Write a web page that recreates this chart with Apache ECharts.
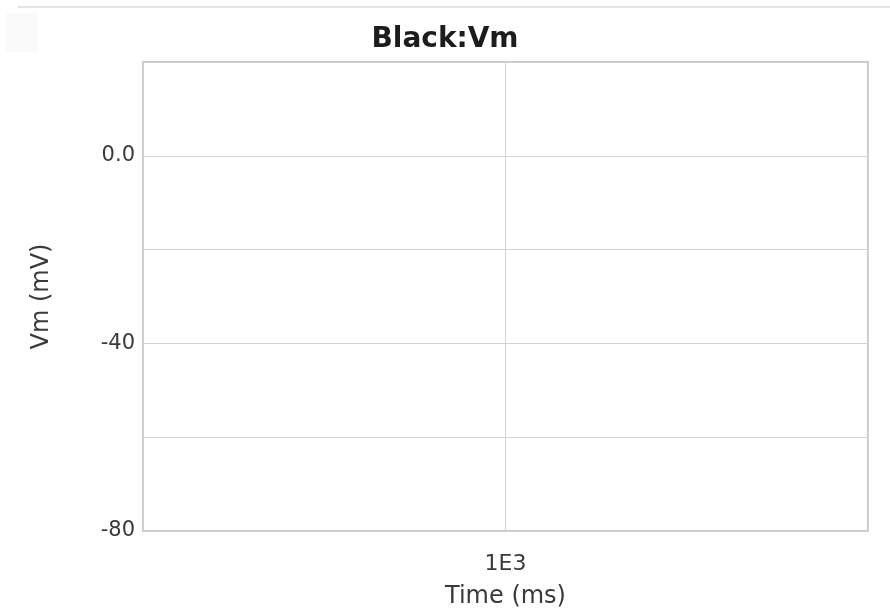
<!DOCTYPE html>
<html>
<head>
<meta charset="utf-8">
<script src="https://cdn.jsdelivr.net/npm/echarts@6/dist/echarts.min.js"></script>
<style>
  html, body { margin: 0; padding: 0; background: #fff; }
  #chart { width: 890px; height: 614px; }
</style>
</head>
<body>
<div id="chart"></div>
<script>
// Axis ranges and the labels shown on each axis
const timeRange = [0, 2000];      // ms
const vmRange = [-80, 20];        // mV
const timeTickLabels = { 1000: '1E3' };
const vmTickLabels = { 0: '0.0', '-40': '-40', '-80': '-80' };
// Recorded trace (time ms, Vm mV) — nothing recorded yet
const traceTime = [];
const traceVm = [];

const chart = echarts.init(document.getElementById('chart'), null, { renderer: 'canvas' });

const font = '"DejaVu Sans", Verdana, sans-serif';

chart.setOption({
  animation: false,
  backgroundColor: '#ffffff',
  title: {
    text: 'Black:Vm',
    left: 'center',
    top: 21,
    textStyle: { fontFamily: font, fontSize: 28, fontWeight: 'bold', color: '#1c1c1c' }
  },
  graphic: [
    { type: 'line', shape: { x1: 18, y1: 7, x2: 890, y2: 7 }, style: { stroke: '#e4e4e4', lineWidth: 2 } },
    { type: 'rect', shape: { x: 6, y: 13, width: 32, height: 39 }, style: { fill: '#fafafa' } }
  ],
  grid: { left: 143, right: 22, top: 62, bottom: 81, show: true, borderColor: '#c9c9c9', borderWidth: 2 },
  xAxis: {
    type: 'value',
    min: timeRange[0],
    max: timeRange[1],
    interval: 1000,
    name: 'Time (ms)',
    nameLocation: 'middle',
    nameGap: 54,
    nameTextStyle: { fontFamily: font, fontSize: 24, color: '#3a3a3a' },
    axisLine: { show: false },
    axisTick: { show: false },
    axisLabel: {
      margin: 22,
      fontFamily: font, fontSize: 22, color: '#3a3a3a',
      formatter: v => timeTickLabels[v] || ''
    },
    splitLine: { show: true, lineStyle: { color: '#d2d2d2', width: 1 } }
  },
  yAxis: {
    type: 'value',
    min: vmRange[0],
    max: vmRange[1],
    interval: 20,
    name: 'Vm (mV)',
    nameLocation: 'middle',
    nameGap: 89,
    nameRotate: 90,
    nameTextStyle: { fontFamily: font, fontSize: 24, color: '#3a3a3a' },
    axisLine: { show: false },
    axisTick: { show: false },
    axisLabel: {
      margin: 8,
      fontFamily: font, fontSize: 21, color: '#3a3a3a',
      formatter: v => vmTickLabels[v] || ''
    },
    splitLine: { show: true, lineStyle: { color: '#d2d2d2', width: 1 } }
  },
  series: [{
    type: 'line',
    data: traceTime.map((t, i) => [t, traceVm[i]]),
    showSymbol: false,
    lineStyle: { color: '#000', width: 1 }
  }]
});
</script>
</body>
</html>
